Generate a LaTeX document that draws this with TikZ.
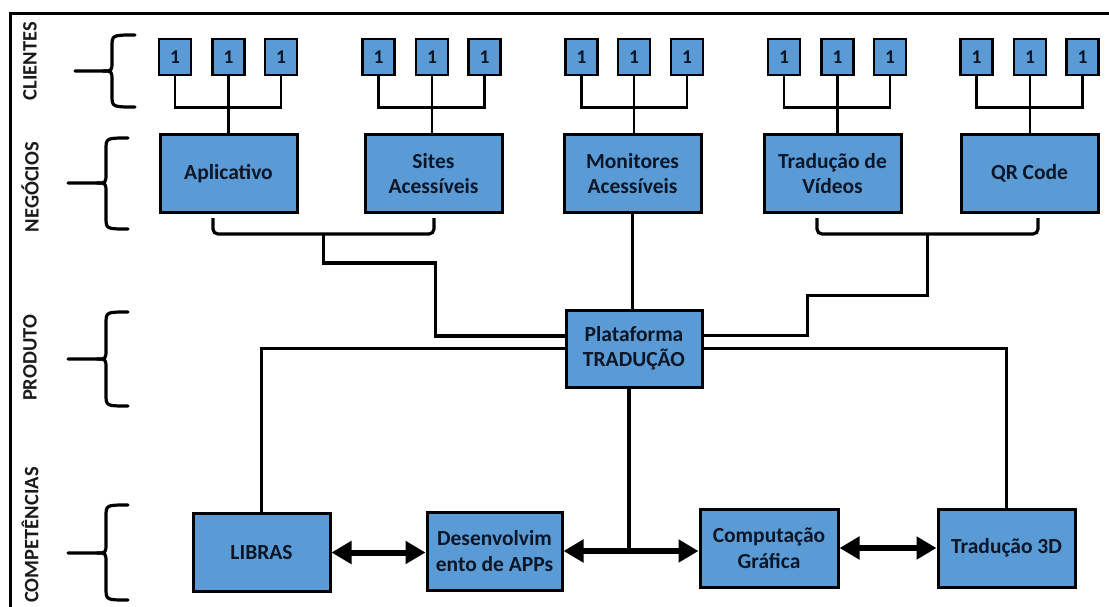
\documentclass[tikz,border=0pt]{standalone}
\usepackage{fontspec}
\setmainfont{Carlito}
\usetikzlibrary{arrows.meta,calc}
\definecolor{boxblue}{HTML}{5B9BD5}
\definecolor{boxtext}{HTML}{0C1626}
\definecolor{labeltext}{HTML}{1A1A1A}

% curly level brace: #1 right end x, #2 spine x, #3 top y, #4 middle y, #5 bottom y, #6 tip x
\newcommand\levelbrace[6]{%
  \draw[bracestyle] (#1,#3) .. controls (#2,#3) .. (#2,#3+12) -- (#2,#4-10)
     .. controls (#2,#4) .. (#2-9,#4) -- (#6,#4);
  \draw[bracestyle] (#2-9,#4) .. controls (#2,#4) .. (#2,#4+10) -- (#2,#5-12)
     .. controls (#2,#5) .. (#1,#5);
}

\begin{document}
\begin{tikzpicture}[x=1pt,y=-1pt,
  bracestyle/.style={line width=3.2pt,line cap=round,line join=round},
  client/.style={draw=black,line width=2.6pt,fill=boxblue,minimum width=32pt,
    minimum height=36pt,inner sep=0pt,text=boxtext,
    font=\fontsize{19.5}{22}\selectfont\bfseries},
  blockbox/.style={draw=black,line width=3pt,fill=boxblue,minimum width=137pt,
    minimum height=78pt,inner sep=2pt,align=center,text=boxtext,
    font=\fontsize{21.5}{25.5}\selectfont\bfseries},
  levellabel/.style={rotate=90,text=labeltext,inner sep=0pt,
    font=\fontsize{20.5}{24}\selectfont\bfseries},
  thinconn/.style={line width=2.4pt},
  conn/.style={line width=3.2pt},
  bracketconn/.style={line width=3.2pt,rounded corners=5pt},
  dblarrow/.style={line width=6pt,{Triangle[length=20pt,width=22pt]}-{Triangle[length=20pt,width=22pt]}}
]
\useasboundingbox (0,0) rectangle (1109,606);

% outer frame (top and left edges)
\draw[line width=3pt] (1112,13) -- (10,13) -- (10,609);

% level labels and braces
\node[levellabel] (lclientes) at (30,61) {CLIENTES};
\node[levellabel] (lnegocios) at (30,187) {NEGÓCIOS};
\node[levellabel] (lproduto) at (30,358) {PRODUTO};
\node[levellabel] (lcompet) at (30,535) {COMPETÊNCIAS};
\levelbrace{135}{112}{35}{71}{107}{75}
\levelbrace{128}{106}{138}{183}{229}{68}
\levelbrace{128}{106}{312}{359}{406}{68}
\levelbrace{128}{106}{505}{553}{600}{68}

% clients
\foreach \g/\xa/\xb/\xc in {1/175/228.5/281, 2/378.5/432/484.5, 3/581.5/634/687,
                            4/784/837.5/890, 5/976.5/1030/1082.5}{
  \node[client] (c\g a) at (\xa,57) {1};
  \node[client] (c\g b) at (\xb,57) {1};
  \node[client] (c\g c) at (\xc,57) {1};
}

% businesses
\node[blockbox] (b1) at (228.5,173.5) {Aplicativo};
\node[blockbox] (b2) at (433.5,173.5) {Sites\\Acessíveis};
\node[blockbox] (b3) at (632.5,173.5) {Monitores\\Acessíveis};
\node[blockbox] (b4) at (832.5,173.5) {Tradução de\\Vídeos};
\node[blockbox] (b5) at (1029.5,173.5) {QR Code};

% product
\node[blockbox,minimum width=136pt,minimum height=77pt] (plat) at (634,348.5) {Plataforma\\TRADUÇÃO};

% competences
\node[blockbox] (libras) at (261.5,552.5) {LIBRAS};
\node[blockbox,minimum width=135pt] (dev) at (494.5,551) {Desenvolvim\\ento de APPs};
\node[blockbox,minimum width=138pt] (comp) at (769,548) {Computação\\Gráfica};
\node[blockbox] (t3d) at (1006.5,548) {Tradução 3D};

% clients to businesses
\foreach \g in {1,...,5}{
  \draw[thinconn] (c\g a.south) -- ++(0,31) -| (c\g c.south);
  \draw[thinconn] (c\g b.south) -- (c\g b.south |- b\g.north);
}

% left bracket: Aplicativo + Sites
\coordinate (lbr) at (323.5,234);
\draw[bracketconn] ($(b1.south)+(-15.5,4)$) |- (lbr) -| ($(b2.south)+(0.5,4)$);
\draw[conn] (lbr) -- ++(0,29) -| ($(plat.west)+(-129,-12.5)$) -- ($(plat.west)+(0,-12.5)$);

% right bracket: Tradução de Vídeos + QR Code
\coordinate (rbr) at (927.5,234);
\draw[bracketconn] ($(b4.south)+(-15.5,4)$) |- (rbr) -| ($(b5.south)+(8.5,4)$);
\draw[conn] ($(plat.east)+(0,-13)$) -| ++(104,-40) -| (rbr);

% Monitores to platform
\draw[conn] (b3.south) -- (b3.south |- plat.north);

% platform to competences
\draw[conn] (plat.west) -| (libras.north);
\draw[conn] (plat.east) -| (t3d.north);
\coordinate (hub) at ($(plat.south)+(-5,0)$);
\draw[conn] (hub) -- (hub |- dev.east);

% links between competences
\draw[dblarrow] (libras.east) -- (libras.east -| dev.west);
\draw[dblarrow] (dev.east) -- (dev.east -| comp.west);
\draw[dblarrow] (comp.east) -- (comp.east -| t3d.west);
\end{tikzpicture}
\end{document}
